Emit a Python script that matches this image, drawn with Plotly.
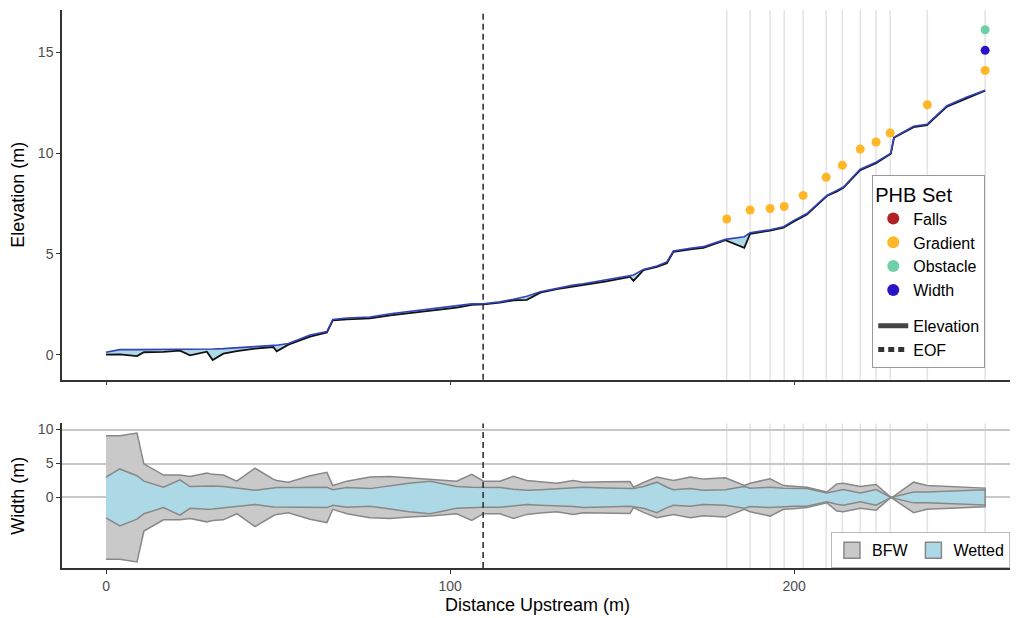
import plotly.graph_objects as go

# ---------------- data ----------------
dist = [0, 4, 9, 11, 16.7, 21.5, 24.4, 29.3, 31, 34.1, 38, 43.3, 48.6, 49.6, 53, 59.3,
        64.2, 65.9, 70, 76.7, 82.6, 88, 94.2, 101.9, 106.3, 109.7, 114.5, 118.4, 122.3,
        126.2, 131, 135.8, 138.7, 145, 152.3, 153.3, 156.2, 160.1, 163, 164.9, 169.8,
        173.6, 180, 185.5, 187.2, 193, 196.9, 199.8, 203.7, 209.5, 212.4, 214.3, 219.2,
        223.8, 228.1, 229.0, 234.7, 238.6, 244.4, 250.2, 255.5]
bed = [0.0, 0.02, -0.07, 0.12, 0.14, 0.2, -0.03, 0.15, -0.27, 0.05, 0.18, 0.3, 0.38, 0.17,
       0.5, 0.9, 1.1, 1.7, 1.75, 1.8, 1.95, 2.05, 2.17, 2.33, 2.47, 2.5, 2.58, 2.7, 2.72,
       3.08, 3.25, 3.38, 3.45, 3.62, 3.86, 3.66, 4.2, 4.35, 4.54, 5.1, 5.22, 5.3, 5.68,
       5.3, 6.0, 6.15, 6.3, 6.6, 6.95, 7.87, 8.1, 8.28, 9.15, 9.5, 9.97, 10.76, 11.29,
       11.39, 12.31, 12.74, 13.1]
water = [0.12, 0.25, 0.25, 0.25, 0.26, 0.27, 0.27, 0.27, 0.28, 0.3, 0.33, 0.4, 0.46, 0.47,
         0.55, 0.98, 1.15, 1.75, 1.82, 1.87, 2.03, 2.14, 2.25, 2.4, 2.52, 2.53, 2.62, 2.75,
         2.9, 3.12, 3.3, 3.45, 3.52, 3.7, 3.92, 3.95, 4.23, 4.4, 4.6, 5.15, 5.28, 5.36,
         5.72, 5.85, 6.05, 6.2, 6.35, 6.65, 7.0, 7.9, 8.15, 8.32, 9.2, 9.55, 10.0, 10.78,
         11.33, 11.43, 12.35, 12.78, 13.12]
bfw = [18.2, 18.2, 19.0, 9.9, 6.6, 6.6, 6.2, 7.2, 6.8, 6.6, 4.8, 8.6, 5.4, 5.0, 4.5, 6.4,
       7.4, 3.5, 4.8, 6.0, 6.2, 5.8, 5.5, 4.8, 6.8, 4.8, 4.8, 6.2, 5.0, 4.6, 4.2, 5.0, 4.5,
       4.6, 4.7, 3.0, 4.4, 6.0, 5.4, 5.0, 6.0, 5.4, 5.8, 3.5, 4.2, 5.5, 3.5, 3.3, 3.0, 1.6,
       4.0, 4.2, 3.2, 3.8, 0.0, 0.4, 4.5, 3.5, 3.3, 3.0, 2.75]
wetted = [6.0, 8.4, 6.4, 4.8, 3.0, 5.2, 3.2, 3.5, 3.4, 3.2, 2.7, 2.1, 2.8, 2.9, 2.9, 3.0,
          3.0, 2.3, 2.9, 2.6, 3.4, 4.2, 4.8, 3.2, 3.0, 2.9, 2.9, 2.4, 2.1, 2.3, 2.6, 2.7,
          3.0, 2.8, 2.6, 2.6, 3.2, 4.5, 3.0, 2.3, 2.6, 2.1, 2.3, 3.2, 2.7, 3.0, 2.7, 2.6,
          2.6, 1.3, 2.0, 2.3, 1.3, 2.3, 0.0, 0.2, 1.6, 1.6, 1.75, 2.0, 2.25]

gradient_x = [180.4, 187.2, 193.0, 197.1, 202.6, 209.3, 214.0, 219.2, 223.8, 227.9, 238.7, 255.5]
gradient_y = [6.73, 7.18, 7.25, 7.35, 7.9, 8.8, 9.4, 10.2, 10.55, 11.0, 12.4, 14.1]
obstacle_x = [255.5]
obstacle_y = [16.12]
width_x = [255.5]
width_y = [15.1]
falls_x = []
falls_y = []
eof = 109.6

phb_names = ["Falls", "Gradient", "Obstacle", "Width"]
phb_colors = ["#B22222", "#FFB627", "#6FD0A8", "#2B14C8"]

FONT = "Liberation Sans, Arial, sans-serif"

fig = go.Figure()

# ---------------- top panel ----------------
fig.add_trace(go.Scatter(x=dist, y=bed, mode="lines", line=dict(color="#111111", width=1.8),
                         showlegend=False, hoverinfo="skip", xaxis="x", yaxis="y"))
fig.add_trace(go.Scatter(x=dist, y=water, mode="lines", fill="tonexty", fillcolor="#ADD8E6",
                         line=dict(color="#3343B8", width=1.6),
                         showlegend=False, hoverinfo="skip", xaxis="x", yaxis="y"))

pts = [(falls_x, falls_y), (gradient_x, gradient_y), (obstacle_x, obstacle_y), (width_x, width_y)]
for name, col, (px_, py_) in zip(phb_names, phb_colors, pts):
    fig.add_trace(go.Scatter(x=px_ if px_ else [None], y=py_ if py_ else [None], mode="markers",
                             marker=dict(color=col, size=9), name=name,
                             legend="legend", legendgroup="phb", xaxis="x", yaxis="y"))

fig.add_trace(go.Scatter(x=[None], y=[None], mode="lines", line=dict(color="#444444", width=1.6),
                         name="Elevation", legend="legend", legendgroup="lines",
                         xaxis="x", yaxis="y"))
fig.add_trace(go.Scatter(x=[None], y=[None], mode="lines",
                         line=dict(color="#333333", width=1.6, dash="6px,4px"),
                         name="EOF", legend="legend", legendgroup="lines",
                         xaxis="x", yaxis="y"))

# ---------------- bottom panel ----------------
bfw_top = [w / 2 for w in bfw]
bfw_bot = [-w / 2 for w in bfw]
wet_top = [w / 2 for w in wetted]
wet_bot = [-w / 2 for w in wetted]

fig.add_trace(go.Scatter(x=dist + dist[::-1], y=bfw_top + bfw_bot[::-1], mode="lines",
                         fill="toself", fillcolor="#C9C9C9", line=dict(color="#888888", width=1.5),
                         showlegend=False, hoverinfo="skip", xaxis="x2", yaxis="y2"))
fig.add_trace(go.Scatter(x=dist + dist[::-1], y=wet_top + wet_bot[::-1], mode="lines",
                         fill="toself", fillcolor="#ADD8E6", line=dict(color="#888888", width=1.5),
                         showlegend=False, hoverinfo="skip", xaxis="x2", yaxis="y2"))
for name, col in [("BFW", "#C9C9C9"), ("Wetted", "#ADD8E6")]:
    fig.add_trace(go.Scatter(x=[None], y=[None], mode="markers", name=name,
                             marker=dict(symbol="square", size=20, color=col,
                                         line=dict(color="#888888", width=1.5)),
                             legend="legend2", xaxis="x2", yaxis="y2"))

# ---------------- reference lines ----------------
shapes = []
phb_all_x = sorted(set(gradient_x + obstacle_x + width_x + falls_x))
for xv in phb_all_x:
    for xr, yr in [("x", "y domain"), ("x2", "y2 domain")]:
        shapes.append(dict(type="line", xref=xr, yref=yr, x0=xv, x1=xv, y0=0, y1=1,
                           line=dict(color="#E3E3E3", width=1.5), layer="below"))
for xr, yr in [("x", "y domain"), ("x2", "y2 domain")]:
    shapes.append(dict(type="line", xref=xr, yref=yr, x0=eof, x1=eof, y0=0, y1=1,
                       line=dict(color="#333333", width=1.6, dash="6px,4px"), layer="above"))

xrange = [-12.8, 263.6]
axis_common = dict(showline=True, linecolor="#333333", linewidth=1.5, ticks="outside",
                   tickcolor="#333333", ticklen=4, tickwidth=1.2, zeroline=False,
                   tickfont=dict(family=FONT, size=14, color="#4D4D4D"))

fig.update_layout(
    width=1010, height=610,
    margin=dict(l=54, r=5, t=0, b=50),
    paper_bgcolor="white", plot_bgcolor="white",
    font=dict(family=FONT, color="black"),
    shapes=shapes,
    xaxis=dict(domain=[0, 1], anchor="y", range=xrange, tickvals=[0, 100, 200],
               showticklabels=False, showgrid=False, **axis_common),
    yaxis=dict(domain=[0.3375, 1], anchor="x", range=[-1.24, 17.1], tickvals=[0, 5, 10, 15],
               showgrid=False, title=dict(text="Elevation (m)", font=dict(family=FONT, size=18)),
               **axis_common),
    xaxis2=dict(domain=[0, 1], anchor="y2", range=xrange, tickvals=[0, 100, 200],
                showgrid=False, matches="x",
                title=dict(text="Distance Upstream (m)", font=dict(family=FONT, size=18), standoff=6),
                **axis_common),
    yaxis2=dict(domain=[0, 0.259], anchor="x2", range=[-10.4, 10.9], tickvals=[0, 5, 10],
                showgrid=True, gridcolor="#C8C8C8", gridwidth=1.5,
                title=dict(text="Width (m)", font=dict(family=FONT, size=18)),
                **axis_common),
    legend=dict(x=0.852, y=0.705, xanchor="left", yanchor="top", traceorder="grouped",
                title=dict(text="PHB Set", font=dict(family=FONT, size=20)),
                font=dict(family=FONT, size=16), bgcolor="white",
                bordercolor="#999999", borderwidth=1, tracegroupgap=12,
                itemsizing="constant", itemwidth=30),
    legend2=dict(x=0.9968, y=0.064, xanchor="right", yanchor="top", orientation="h",
                 font=dict(family=FONT, size=16), bgcolor="white", itemwidth=30,
                 bordercolor="#BBBBBB", borderwidth=1),
)

fig.write_html("out.html")
